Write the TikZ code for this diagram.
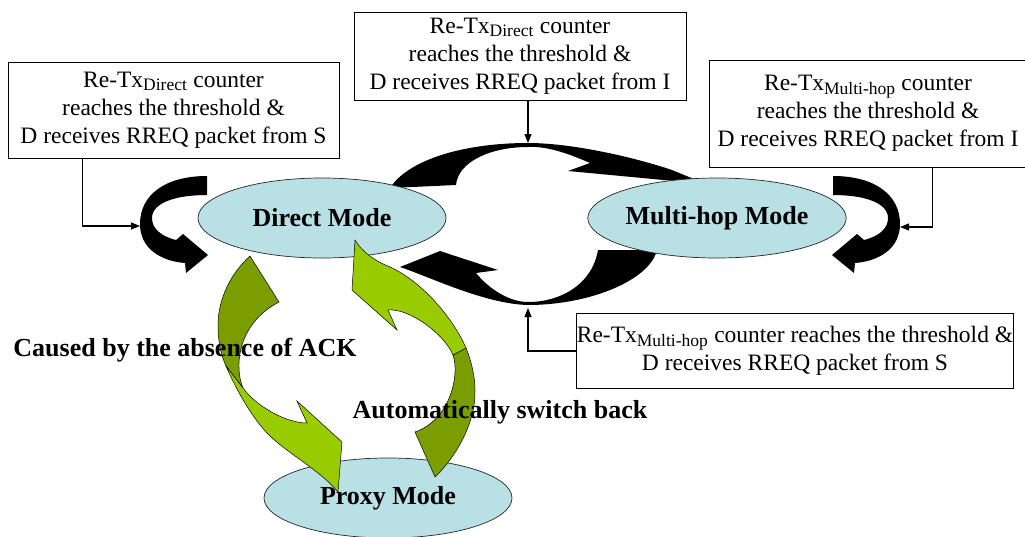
\documentclass[tikz,border=0pt]{standalone}
\usepackage{tikz}
\usepackage{fontspec}
\setmainfont{Liberation Serif}
\definecolor{modecyan}{RGB}{185, 224, 229}
\definecolor{arrowlime}{RGB}{153, 204, 0}
\definecolor{arrowolive}{RGB}{122, 158, 0}
\usetikzlibrary{shapes.geometric, arrows.meta}

\begin{document}
\begin{tikzpicture}[
  x=1pt, y=-1pt,
  condbox/.style={draw, line width=0.9pt, inner sep=0pt, align=center, font=\fontsize{23.5}{28}\selectfont},
  modeell/.style={ellipse, draw=black!85, line width=0.7pt, fill=modecyan, minimum width=248pt, minimum height=80pt, inner sep=0pt, font=\bfseries\fontsize{26}{30}\selectfont},
  conn/.style={draw=black, line width=1.1pt, -{Triangle[length=9pt, width=7pt]}},
  bigturn/.style={fill=black},
  frontband/.style={fill=arrowlime, draw=black, line width=0.5pt},
  backband/.style={fill=arrowolive, draw=black, line width=0.5pt},
  lbl/.style={inner sep=0pt, font=\bfseries\fontsize{26}{30}\selectfont}
]
  \useasboundingbox (0,0) rectangle (1025,536);

  \path[bigturn] (207,176) .. controls (165,176) and (140,195) .. (140,224)
    .. controls (140,248) and (160,261) .. (185,263) -- (186,273) -- (208,255) -- (183,234) -- (176,240)
    .. controls (160,236) and (152,228) .. (152,218)
    .. controls (152,203) and (175,195) .. (207,195) -- cycle;
  \begin{scope}[xshift=1040pt, xscale=-1]
    \path[bigturn] (207,176) .. controls (165,176) and (140,195) .. (140,224)
      .. controls (140,248) and (160,261) .. (185,263) -- (186,273) -- (208,255) -- (183,234) -- (176,240)
      .. controls (160,236) and (152,228) .. (152,218)
      .. controls (152,203) and (175,195) .. (207,195) -- cycle;
  \end{scope}
  \path[bigturn] (390,188) .. controls (408,160) and (463,143) .. (528,143)
    .. controls (570,143) and (630,156) .. (672,170)
    -- (706,184) -- (568,171) -- (590,163)
    .. controls (565,152) and (545,146) .. (528,147)
    .. controls (490,147) and (458,162) .. (456,185) -- cycle;
  \path[bigturn] (657,250) .. controls (650,280) and (590,305) .. (528,305)
    .. controls (485,304) and (430,277) .. (400,267)
    -- (440,251) -- (498,270) -- (476,273)
    .. controls (490,290) and (510,302) .. (528,302)
    .. controls (560,302) and (592,285) .. (598,250) -- cycle;

  \node[modeell] (direct) at (322,218) {Direct Mode};
  \node[modeell] (multihop) at (717,218) {Multi-hop Mode};
  \node[modeell] (proxy) at (388,498) {Proxy Mode};

  \path[backband] (250,256) .. controls (232,272) and (218,298) .. (218,325)
    .. controls (218,342) and (221,355) .. (226,366) -- (243,388)
    .. controls (235,370) and (235,325) .. (279,302) -- cycle;
  \path[frontband] (226,366) .. controls (234,385) and (250,415) .. (267,433)
    .. controls (285,452) and (320,470) .. (338,492)
    -- (342,442) -- (297,401) -- (307,423)
    .. controls (285,423) and (255,405) .. (243,388) -- cycle;
  \path[backband] (435,477) .. controls (458,455) and (476,420) .. (475,390)
    .. controls (475,376) and (471,360) .. (466,348) -- (453,355)
    .. controls (460,375) and (450,420) .. (415,432) -- cycle;
  \path[frontband] (466,348) .. controls (455,322) and (425,283) .. (390,267)
    .. controls (375,261) and (362,252) .. (355,240)
    -- (352,290) -- (397,330) -- (388,310)
    .. controls (410,308) and (445,335) .. (453,355) -- cycle;

  \node[condbox, minimum width=331pt, minimum height=96pt] (condDS) at (173.5,110)
    {Re-Tx\textsubscript{\fontsize{17.5}{18}\selectfont Direct} counter\\reaches the threshold \&\\D receives RREQ packet from S};
  \node[condbox, minimum width=332pt, minimum height=88pt] (condDI) at (520,56)
    {Re-Tx\textsubscript{\fontsize{17.5}{18}\selectfont Direct} counter\\reaches the threshold \&\\D receives RREQ packet from I};
  \node[condbox, minimum width=318pt, minimum height=107pt] (condMI) at (868,113.5)
    {Re-Tx\textsubscript{\fontsize{17.5}{18}\selectfont Multi-hop} counter\\reaches the threshold \&\\D receives RREQ packet from I};
  \node[condbox, minimum width=436pt, minimum height=75pt] (condMS) at (795,351)
    {Re-Tx\textsubscript{\fontsize{17.5}{18}\selectfont Multi-hop} counter reaches the threshold \&\\D receives RREQ packet from S};

  \coordinate (tipDS) at (140,226);
  \coordinate (tipDI) at (528,143);
  \coordinate (tipMI) at (900,227);
  \coordinate (tipMS) at (528,308);
  \draw[conn] ([xshift=75pt]condDS.south west) |- (tipDS);
  \draw[conn] (condDI.south -| tipDI) -- (tipDI);
  \draw[conn] ([xshift=224pt]condMI.south west) |- (tipMI);
  \draw[conn] (condMS.west) -| (tipMS);

  \node[lbl] (absent) at (185,350) {Caused by the absence of ACK};
  \node[lbl] (goback) at (500,412) {Automatically switch back};
\end{tikzpicture}
\end{document}
